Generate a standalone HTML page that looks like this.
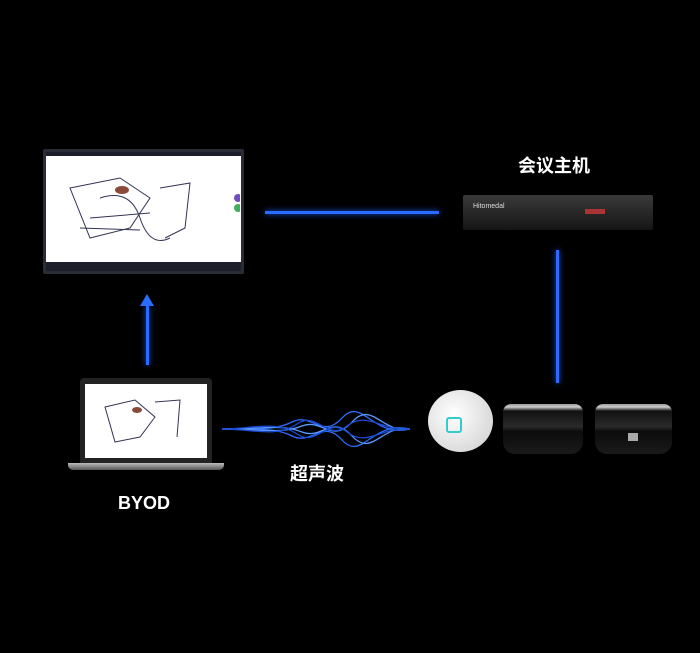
<!DOCTYPE html>
<html><head><meta charset="utf-8"><style>
body{margin:0;width:700px;height:653px;background:#000;position:relative;overflow:hidden;font-family:"Liberation Sans","Noto Sans CJK SC",sans-serif}
.a{position:absolute}
.t{color:#fff;font-weight:bold;font-size:18px}
</style></head><body>
<!-- monitor -->
<div class="a" style="left:43px;top:149px;width:201px;height:125px;background:#2a2d35;border-radius:2px"></div>
<div class="a" style="left:46px;top:155px;width:195px;height:107px;background:#fff"></div>
<div class="a" style="left:46px;top:152px;width:195px;height:4px;background:#1c1f2a"></div>
<div class="a" style="left:46px;top:262px;width:195px;height:9px;background:#1c1f2a"></div>
<svg class="a" style="left:60px;top:168px" width="180" height="90"><g stroke="#335" fill="none" stroke-width="1"><path d="M10 20 L60 10 L90 30 L70 60 L30 70 Z"/><path d="M40 30 Q70 20 80 50 T110 70"/><path d="M100 20 L130 15 L125 60 L105 70"/><path d="M30 50 L90 45 M20 60 L80 62"/></g><ellipse cx="62" cy="22" rx="7" ry="4" fill="#8a4a3a"/><circle cx="178" cy="30" r="4" fill="#7050c0"/><circle cx="178" cy="40" r="4" fill="#40b060"/></svg>
<!-- host -->
<div class="a" style="left:463px;top:195px;width:190px;height:35px;background:linear-gradient(#3a3a3a,#151515);border-radius:2px"></div>
<div class="a" style="left:473px;top:203px;font-size:7px;color:#ddd">Hitomedal</div>
<div class="a" style="left:585px;top:209px;width:20px;height:5px;background:#a33"></div>
<!-- lines -->
<div class="a" style="left:265px;top:211px;width:174px;height:3px;background:#2a6cff;box-shadow:0 0 6px #1a5cff"></div>
<div class="a" style="left:556px;top:250px;width:3px;height:133px;background:#2a6cff;box-shadow:0 0 6px #1a5cff"></div>
<div class="a" style="left:146px;top:305px;width:3px;height:60px;background:#2a6cff;box-shadow:0 0 6px #1a5cff"></div>
<div class="a" style="left:140px;top:294px;width:0;height:0;border-left:7px solid transparent;border-right:7px solid transparent;border-bottom:12px solid #2a6cff"></div>
<!-- laptop -->
<div class="a" style="left:80px;top:378px;width:132px;height:85px;background:#222;border-radius:4px 4px 0 0"></div>
<div class="a" style="left:85px;top:384px;width:122px;height:74px;background:#fff"></div>
<svg class="a" style="left:95px;top:392px" width="100" height="60"><g stroke="#335" fill="none"><path d="M10 15 L40 8 L60 25 L45 45 L20 50 Z"/><path d="M60 10 L85 8 L82 45"/></g><ellipse cx="42" cy="18" rx="5" ry="3" fill="#8a4a3a"/></svg>
<div class="a" style="left:68px;top:463px;width:156px;height:7px;background:linear-gradient(#bbb,#555);border-radius:0 0 5px 5px"></div>
<!-- wave -->
<svg class="a" style="left:222px;top:410px" width="188" height="38"><g fill="none" stroke="#2d6dff" stroke-width="1.3"><path d="M0 19 C30 17 50 22 70 12 S100 30 120 8 S150 28 188 19"/><path d="M0 19 C30 21 50 16 70 26 S100 8 120 30 S150 10 188 19"/><path d="M0 19 C40 19 60 14 80 22 S110 4 130 26 S160 14 188 19" stroke="#5a9aff"/><path d="M0 19 C40 19 60 24 80 16 S110 34 130 12 S160 24 188 19" stroke="#5a9aff"/><path d="M0 19 C30 19 55 10 75 24 S105 6 125 22 S160 16 188 19" stroke="#1a4ad0"/><path d="M0 19 C30 19 55 28 75 14 S105 32 125 16 S160 22 188 19" stroke="#1a4ad0"/></g></svg>
<!-- speakers -->
<div class="a" style="left:428px;top:390px;width:65px;height:62px;border-radius:50%;background:radial-gradient(circle at 40% 40%,#fff,#ccc)"></div>
<div class="a" style="left:446px;top:417px;width:12px;height:12px;border:2px solid #3cc;border-radius:3px"></div>
<div class="a" style="left:503px;top:404px;width:80px;height:50px;background:linear-gradient(#999 0,#ccc 6%,#111 14%,#2a2a2a 45%,#0c0c0c 55%,#1a1a1a 100%);border-radius:8px 8px 12px 12px"></div>
<div class="a" style="left:595px;top:404px;width:77px;height:50px;background:linear-gradient(#999 0,#ccc 6%,#111 14%,#2a2a2a 45%,#0c0c0c 55%,#1a1a1a 100%);border-radius:8px 8px 12px 12px"></div>
<div class="a" style="left:628px;top:433px;width:10px;height:8px;background:#aaa"></div>
<!-- labels -->
<div class="a t" style="left:518px;top:152px">会议主机</div>
<div class="a t" style="left:290px;top:460px">超声波</div>
<div class="a t" style="left:118px;top:493px">BYOD</div>
</body></html>
